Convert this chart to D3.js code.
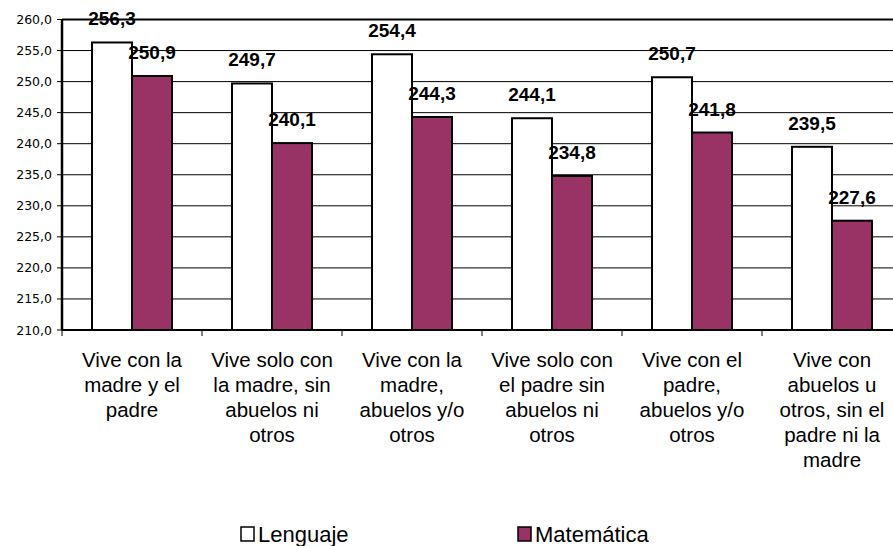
<!DOCTYPE html>
<html lang="es">
<head>
  <meta charset="UTF-8">
  <title>Lenguaje y Matemática según con quién vive</title>
  <script src="https://d3js.org/d3.v7.min.js"></script>
  <style>
    body { margin: 0; background: #fff; }
    svg { display: block; font-family: "Liberation Sans", Arial, sans-serif; }
    .tick-label { font-family: "DejaVu Sans", sans-serif; font-size: 12.5px; }
    .value { font-size: 19px; font-weight: bold; }
    .cat { font-size: 20.5px; }
    .legend text { font-size: 22px; }
  </style>
</head>
<body>
  <svg width="893" height="546"></svg>

  <script>
    const categories = [
      ["Vive con la", "madre y el", "padre"],
      ["Vive solo con", "la madre, sin", "abuelos ni", "otros"],
      ["Vive con la", "madre,", "abuelos y/o", "otros"],
      ["Vive solo con", "el padre sin", "abuelos ni", "otros"],
      ["Vive con el", "padre,", "abuelos y/o", "otros"],
      ["Vive con", "abuelos u", "otros, sin el", "padre ni la", "madre"]
    ];
    const series = ["Lenguaje", "Matemática"];
    const lenguaje = [256.3, 249.7, 254.4, 244.1, 250.7, 239.5];
    const matematica = [250.9, 240.1, 244.3, 234.8, 241.8, 227.6];
    const yTicks = [210, 215, 220, 225, 230, 235, 240, 245, 250, 255, 260];
    const colors = { "Lenguaje": "#ffffff", "Matemática": "#993366" };

    const svg = d3.select("svg");
    const mLeft = 62, mTop = 19.5, mBottom = 330, mRight = 902;

    const x0 = d3.scaleBand()
      .domain(d3.range(categories.length))
      .range([mLeft, mRight])
      .paddingInner(0).paddingOuter(0);

    const x1 = d3.scaleBand()
      .domain(series)
      .range([0, x0.bandwidth()])
      .paddingInner(0).paddingOuter(0.75);

    const y = d3.scaleLinear().domain([210, 260]).range([mBottom, mTop]);
    const fmt = v => d3.format(".1f")(v).replace(".", ",");

    // gridlines
    svg.append("g")
      .selectAll("line")
      .data(yTicks.filter(t => t > 210))
      .join("line")
        .attr("x1", mLeft).attr("x2", mRight)
        .attr("y1", d => y(d)).attr("y2", d => y(d))
        .attr("stroke", "#000")
        .attr("stroke-width", d => d === 260 ? 2.2 : 1);

    // y ticks + labels
    const yt = svg.append("g");
    yt.selectAll("line")
      .data(yTicks)
      .join("line")
        .attr("x1", mLeft - 5).attr("x2", mLeft)
        .attr("y1", d => y(d)).attr("y2", d => y(d))
        .attr("stroke", "#000");
    yt.selectAll("text")
      .data(yTicks)
      .join("text")
        .attr("class", "tick-label")
        .attr("x", mLeft - 10)
        .attr("y", d => y(d))
        .attr("dy", "0.36em")
        .attr("text-anchor", "end")
        .text(fmt);

    // bars
    const rows = categories.map((c, i) => ({
      i,
      values: [
        { key: "Lenguaje", value: lenguaje[i] },
        { key: "Matemática", value: matematica[i] }
      ]
    }));

    const grp = svg.append("g")
      .selectAll("g")
      .data(rows)
      .join("g")
        .attr("transform", d => `translate(${x0(d.i)},0)`);

    grp.selectAll("rect")
      .data(d => d.values)
      .join("rect")
        .attr("x", d => x1(d.key))
        .attr("y", d => y(d.value))
        .attr("width", x1.bandwidth())
        .attr("height", d => mBottom - y(d.value))
        .attr("fill", d => colors[d.key])
        .attr("stroke", "#000")
        .attr("stroke-width", 2);

    grp.selectAll("text")
      .data(d => d.values)
      .join("text")
        .attr("class", "value")
        .attr("x", d => x1(d.key) + x1.bandwidth() / 2)
        .attr("y", d => y(d.value) - 17)
        .attr("text-anchor", "middle")
        .text(d => fmt(d.value));

    // axis lines
    svg.append("line")
      .attr("x1", mLeft).attr("x2", mLeft)
      .attr("y1", mTop).attr("y2", mBottom)
      .attr("stroke", "#000").attr("stroke-width", 2.5);
    svg.append("line")
      .attr("x1", mLeft).attr("x2", mRight)
      .attr("y1", mBottom).attr("y2", mBottom)
      .attr("stroke", "#000").attr("stroke-width", 2);

    // category ticks
    svg.append("g")
      .selectAll("line")
      .data(d3.range(categories.length + 1))
      .join("line")
        .attr("x1", d => mLeft + d * x0.step()).attr("x2", d => mLeft + d * x0.step())
        .attr("y1", mBottom).attr("y2", mBottom + 6)
        .attr("stroke", "#000");

    // category labels
    svg.append("g")
      .selectAll("text")
      .data(categories)
      .join("text")
        .attr("class", "cat")
        .attr("text-anchor", "middle")
        .attr("transform", (d, i) => `translate(${x0(i) + x0.bandwidth() / 2},367)`)
        .selectAll("tspan")
        .data(d => d)
        .join("tspan")
          .attr("x", 0)
          .attr("y", (d, j) => j * 25)
          .text(d => d);

    // legend
    const legendX = [241, 518];
    const legend = svg.append("g")
      .attr("class", "legend")
      .selectAll("g")
      .data(series)
      .join("g")
        .attr("transform", (d, i) => `translate(${legendX[i]},527)`);
    legend.append("rect")
      .attr("width", 13).attr("height", 14)
      .attr("fill", d => colors[d])
      .attr("stroke", "#000").attr("stroke-width", 1.5);
    legend.append("text")
      .attr("x", 17)
      .attr("y", 7)
      .attr("dy", "0.36em")
      .text(d => d);
  </script>
</body>
</html>
